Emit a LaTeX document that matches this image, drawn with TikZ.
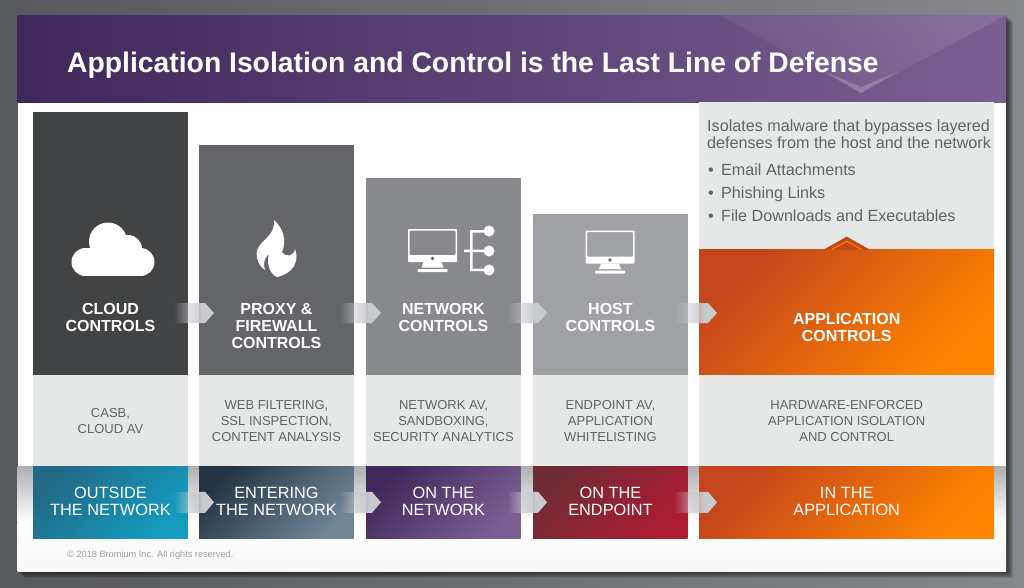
\documentclass[tikz,border=0pt]{standalone}
\usepackage{fontspec}
\setmainfont{Liberation Sans}
\usepackage{tikz}
\usetikzlibrary{positioning, calc, fadings}
\definecolor{bgL}{HTML}{56585c}
\definecolor{bgR}{HTML}{85878b}
\definecolor{hdrL}{HTML}{3e285a}
\definecolor{hdrR}{HTML}{7a5f92}
\definecolor{colA}{HTML}{424345}
\definecolor{colB}{HTML}{646569}
\definecolor{colC}{HTML}{88898d}
\definecolor{colD}{HTML}{a0a1a5}
\definecolor{midGrey}{HTML}{e6e7e7}
\definecolor{midText}{HTML}{626365}
\definecolor{chevGrey}{HTML}{c9cacd}
\definecolor{fadeTop}{HTML}{aeafb2}
\definecolor{orgA}{HTML}{c5451c}
\definecolor{orgB}{HTML}{d55700}
\definecolor{orgC}{HTML}{ff8500}
\definecolor{tealA}{HTML}{216a86}
\definecolor{tealB}{HTML}{149cc0}
\definecolor{slateA}{HTML}{233545}
\definecolor{slateB}{HTML}{6f8698}
\definecolor{plumA}{HTML}{40295a}
\definecolor{plumB}{HTML}{7b5f94}
\definecolor{redA}{HTML}{6f2b36}
\definecolor{redB}{HTML}{ad1c30}
\newcommand{\bul}{\makebox[14pt][l]{\hspace{1pt}\textbullet}}
\pgfdeclarehorizontalshading{chevmask}{100bp}{color(0bp)=(pgftransparent!100); color(25bp)=(pgftransparent!100); color(60bp)=(pgftransparent!0); color(100bp)=(pgftransparent!0)}
\pgfdeclarefading{chevfade}{\pgfuseshading{chevmask}}
\tikzset{
  colbox/.style={anchor=south west, inner sep=0pt, minimum width=154.5pt},
  midbox/.style={fill=midGrey, inner sep=0pt, minimum width=154.5pt, minimum height=91pt, align=center, text=midText, font=\fontsize{13}{16}\selectfont},
  zonebox/.style={inner sep=0pt, minimum width=154.5pt, minimum height=72pt, align=center, text=white, text depth=3pt, font=\fontsize{16.3}{17}\selectfont},
  ctl/.style={align=center, text=white, font=\fontsize{16}{17}\selectfont\bfseries},
  intro/.style={align=left, anchor=base west, inner sep=0pt, text=midText, font=\fontsize{16.15}{17}\selectfont},
  orange/.style={left color=orgA, middle color=orgB, right color=orgC, shading angle=45},
  chev/.style={fill=chevGrey, path fading=chevfade},
  monitor/.pic={
    \fill[white, even odd rule, rounded corners=1pt] (-24.5,-20) rectangle (24.5,13) (-23,-18.5) rectangle (23,6);
    \fill[midText] (0,9.5) circle (1.8);
    \fill[white] (-9,13) -- (9,13) -- (11,18.5) -- (-11,18.5) -- cycle;
    \fill[white, rounded corners=1pt] (-15,20) rectangle (15,23);
  }
}
\begin{document}
\begin{tikzpicture}[x=1pt,y=-1pt]
\useasboundingbox (0,0) rectangle (1024,587);
\shade[left color=bgL, right color=bgR] (0,0) rectangle (1024,587);
\foreach \i in {1,...,7} \fill[black, opacity=.11] (17+\i,15+\i) rectangle (1006+\i,571+\i);
\fill[white] (17.5,15) rectangle (1006,571);
\shade[top color=fadeTop, bottom color=white] (17.5,466) rectangle (1006,522);
\shade[top color=white, bottom color=black!3] (17.5,522) rectangle (1006,571);
% header band
\shade[left color=hdrL, right color=hdrR] (17.5,15) rectangle (1006,102);
\fill[white, opacity=.03] (719,15) -- (861,93) -- (1006,15) -- cycle;
\fill[white, opacity=.08, path fading=west, fading angle=30] (719,15) -- (861,93) -- (1006,15) -- cycle;
\fill[white, opacity=.2] (825,72) -- (861,87) -- (897,72) -- (861,93) -- cycle;
\node[anchor=base west, inner sep=0pt, text=white, font=\fontsize{28.3}{30}\selectfont\bfseries] (title) at (67,72) {Application Isolation and Control is the Last Line of Defense};
% columns
\node[colbox, fill=colA, minimum height=262.5pt] (cloud) at (33,375) {};
\node[colbox, fill=colB, minimum height=230pt] (proxy) at (199,375) {};
\node[colbox, fill=colC, minimum height=197pt] (network) at (366,375) {};
\node[colbox, fill=colD, minimum height=161pt] (host) at (533,375) {};
\node[colbox, orange, minimum width=295pt, minimum height=125pt] (app) at (699,375) {};
\node[ctl] (cloudL) at ([yshift=58pt]cloud.south) {CLOUD\\CONTROLS};
\node[ctl] (proxyL) at ([yshift=49pt]proxy.south) {PROXY \&\\FIREWALL\\CONTROLS};
\node[ctl] (networkL) at ([yshift=58pt]network.south) {NETWORK\\CONTROLS};
\node[ctl] (hostL) at ([yshift=58pt]host.south) {HOST\\CONTROLS};
\node[ctl] (appL) at ([yshift=47.5pt]app.south) {APPLICATION\\CONTROLS};
% middle row
\node[midbox, below=0pt of cloud] (cloudM) {CASB,\\CLOUD AV};
\node[midbox, below=0pt of proxy] (proxyM) {WEB FILTERING,\\SSL INSPECTION,\\CONTENT ANALYSIS};
\node[midbox, below=0pt of network] (networkM) {NETWORK AV,\\SANDBOXING,\\SECURITY ANALYTICS};
\node[midbox, below=0pt of host] (hostM) {ENDPOINT AV,\\APPLICATION\\WHITELISTING};
\node[midbox, minimum width=295pt, below=0pt of app] (appM) {HARDWARE-ENFORCED\\APPLICATION ISOLATION\\AND CONTROL};
% where it acts
\node[zonebox, left color=tealA, right color=tealB, shading angle=45, below=0pt of cloudM] (cloudZ) {OUTSIDE\\THE NETWORK};
\node[zonebox, left color=slateA, right color=slateB, shading angle=45, below=0pt of proxyM] (proxyZ) {ENTERING\\THE NETWORK};
\node[zonebox, left color=plumA, right color=plumB, shading angle=45, below=0pt of networkM] (networkZ) {ON THE\\NETWORK};
\node[zonebox, left color=redA, right color=redB, shading angle=45, below=0pt of hostM] (hostZ) {ON THE\\ENDPOINT};
\node[zonebox, orange, minimum width=295pt, below=0pt of appM] (appZ) {IN THE\\APPLICATION};
% chevrons
\foreach \a/\b/\t in {cloud/proxy/15,proxy/network/15,network/host/14,host/app/18} {
  \fill[chev] ([shift={(-14,-72)}]\a.south east) -- ([shift={(\t-9,-72)}]\b.south west) -- ([shift={(\t,-62)}]\b.south west) -- ([shift={(\t-9,-52)}]\b.south west) -- ([shift={(-14,-52)}]\a.south east) -- cycle;
  \fill[chev] ([shift={(-14,-47)}]\a Z.south east) -- ([shift={(\t-9,-47)}]\b Z.south west) -- ([shift={(\t,-36.5)}]\b Z.south west) -- ([shift={(\t-9,-26)}]\b Z.south west) -- ([shift={(-14,-26)}]\a Z.south east) -- cycle;
}
% panel above app
\node[anchor=south, inner sep=0pt, fill=midGrey, minimum width=295pt, minimum height=147.5pt] (panel) at (app.north) {};
\fill[orgA] ([xshift=-23pt]app.north) -- ([yshift=13pt]app.north) -- ([xshift=23pt]app.north) -- cycle;
\draw[orgC!85!orgB, line width=1.2pt] ([xshift=-15pt]app.north) -- ([yshift=8.5pt]app.north) -- ([xshift=15pt]app.north);
\node[intro] (lead) at (707,148) {Isolates malware that bypasses layered\\defenses from the host and the network};
\node[intro] (itemA) at (707,175.5) {\bul Email Attachments};
\node[intro] (itemB) at (707,198.5) {\bul Phishing Links};
\node[intro] (itemC) at (707,221.5) {\bul File Downloads and Executables};
% icons
\fill[white] (85.5,262) circle (14) (140.5,262) circle (14) (108,241.5) circle (19) (128,249) circle (14);
\fill[white] (85.5,248) rectangle (140.5,276);
\fill[white] (274,220) .. controls (283,228) and (287,240) .. (282,252) .. controls (286,258) and (294,256) .. (295,249) .. controls (300,262) and (292,274) .. (277,277) .. controls (270,274) and (266,264) .. (269,254) .. controls (264,258) and (263,264) .. (265,270) .. controls (257,265) and (255,254) .. (258,248) .. controls (262,240) and (276,234) .. (274,220) -- cycle;
\pic at (432.5,249) {monitor};
\pic at (610,250.5) {monitor};
\fill[white] (464,249.5) rectangle (472,252) (470,230) rectangle (472.5,271);
\fill[white] (470,230) rectangle (484,232.5) (470,249.5) rectangle (484,252) (470,268.5) rectangle (484,271);
\fill[white] (489,231) circle (5.5) (489,251) circle (5.5) (489,270) circle (5.5);
\node[anchor=base west, inner sep=0pt, text=black!38, font=\fontsize{9.2}{10}\selectfont] (copy) at (67,557) {© 2018 Bromium Inc. All rights reserved.};
\end{tikzpicture}
\end{document}
